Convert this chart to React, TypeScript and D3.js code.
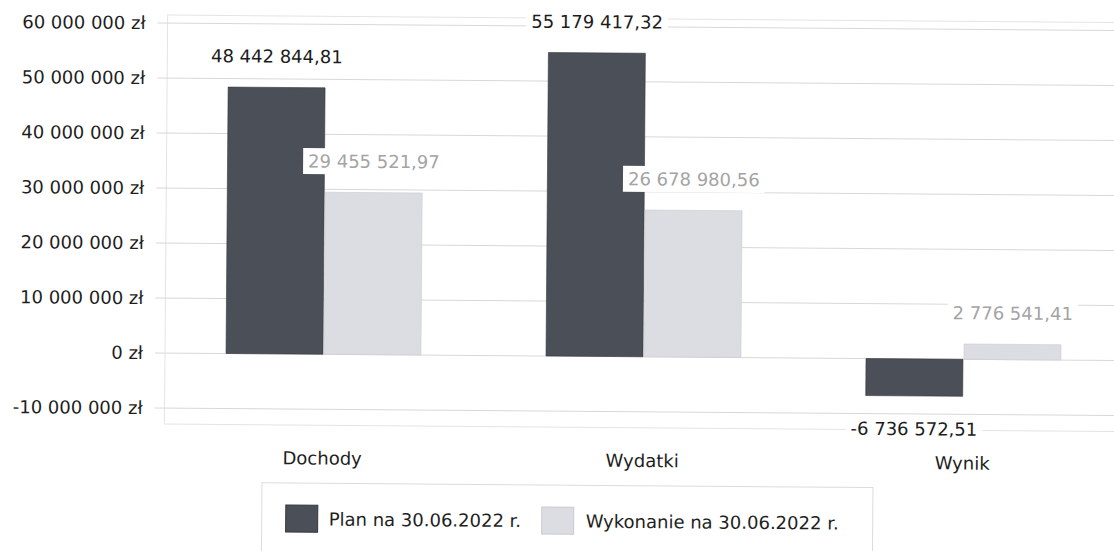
import React, { useEffect, useRef } from "react";
import * as d3 from "d3";

const categories = ["Dochody", "Wydatki", "Wynik"];
const seriesNames = ["Plan na 30.06.2022 r.", "Wykonanie na 30.06.2022 r."];
const planValues = [48442844.81, 55179417.32, -6736572.51];
const wykonanieValues = [29455521.97, 26678980.56, 2776541.41];
const yTicks = [-10000000, 0, 10000000, 20000000, 30000000, 40000000, 50000000, 60000000];
const seriesColors = ["#4b4f57", "#dcdde2"];
const seriesStroke = ["#33363c", "#c9cad0"];
const labelColors = ["#1c1c1c", "#a4a4a4"];

const W = 1114;
const H = 551;
const FONT = "'DejaVu Sans', Verdana, sans-serif";

export default function App() {
  const ref = useRef<SVGSVGElement | null>(null);

  useEffect(() => {
    const svg = d3.select(ref.current);
    svg.selectAll("*").remove();

    const locale = d3.formatLocale({
      decimal: ",",
      thousands: " ",
      grouping: [3],
      currency: ["", " zł"],
      minus: "-",
    });
    const fmtTick = (v: number) => locale.format(",d")(v) + " zł";
    const fmtVal = locale.format(",.2f");

    const root = svg
      .append("g")
      .attr("transform", "rotate(0.45,165,353)")
      .style("font-family", FONT)
      .style("font-size", "18px");

    const plotLeft = 165;
    const plotTop = 15;
    const plotBottom = 424;
    const plotRight = 1125;

    const x0 = d3.scaleBand<string>().domain(categories).range([plotLeft - 2, plotRight - 2]).padding(0);
    const bw = x0.bandwidth();
    const x1 = d3
      .scaleBand<string>()
      .domain(seriesNames)
      .range([bw * 0.197, bw * 0.806])
      .paddingInner(0.01)
      .paddingOuter(0);
    const y = d3.scaleLinear().domain([-10000000, 60000000]).range([408, 23]);

    // plot frame
    root
      .append("rect")
      .attr("x", plotLeft)
      .attr("y", plotTop)
      .attr("width", plotRight + 20 - plotLeft)
      .attr("height", plotBottom - plotTop)
      .attr("fill", "none")
      .attr("stroke", "#e4e4e4")
      .attr("stroke-width", 1);

    // gridlines
    root
      .append("g")
      .selectAll("line")
      .data(yTicks)
      .join("line")
      .attr("x1", plotLeft - 10)
      .attr("x2", plotRight + 20)
      .attr("y1", (d) => y(d))
      .attr("y2", (d) => y(d))
      .attr("stroke", "#d8d8d8")
      .attr("stroke-width", 1);

    // y tick labels
    root
      .append("g")
      .selectAll("text")
      .data(yTicks)
      .join("text")
      .attr("x", 143)
      .attr("y", (d) => y(d))
      .attr("dy", "0.35em")
      .attr("text-anchor", "end")
      .attr("fill", "#1e1e1e")
      .text((d) => fmtTick(d));

    const seriesValues = [planValues, wykonanieValues];

    // bars
    const bars = root.append("g");
    seriesNames.forEach((s, si) => {
      bars
        .append("g")
        .selectAll("rect")
        .data(categories.map((c, ci) => ({ c, v: seriesValues[si][ci] })))
        .join("rect")
        .attr("x", (d) => (x0(d.c) as number) + (x1(s) as number))
        .attr("width", x1.bandwidth())
        .attr("y", (d) => Math.min(y(d.v), y(0)))
        .attr("height", (d) => Math.abs(y(d.v) - y(0)))
        .attr("fill", seriesColors[si])
        .attr("stroke", seriesStroke[si])
        .attr("stroke-width", 0.6);
    });

    // value labels with white boxes
    const labels = root.append("g");
    seriesNames.forEach((s, si) => {
      categories.forEach((c, ci) => {
        const v = seriesValues[si][ci];
        const cx = (x0(c) as number) + (x1(s) as number) + x1.bandwidth() / 2;
        const cy = v >= 0 ? y(v) - 31 : y(v) + 33;
        const g = labels.append("g");
        const rect = g.append("rect").attr("fill", "#ffffff");
        const t = g
          .append("text")
          .attr("x", cx)
          .attr("y", cy)
          .attr("dy", "0.35em")
          .attr("text-anchor", "middle")
          .attr("fill", labelColors[si])
          .text(fmtVal(v));
        const bb = (t.node() as SVGTextElement).getBBox();
        rect
          .attr("x", bb.x - 5)
          .attr("y", cy - 13)
          .attr("width", bb.width + 10)
          .attr("height", 26);
      });
    });

    // category labels
    root
      .append("g")
      .selectAll("text")
      .data(categories)
      .join("text")
      .attr("x", (d) => (x0(d) as number) + bw / 2)
      .attr("y", 457)
      .attr("dy", "0.35em")
      .attr("text-anchor", "middle")
      .attr("fill", "#1e1e1e")
      .text((d) => d);

    // legend
    const lg = root.append("g");
    lg.append("rect")
      .attr("x", 263)
      .attr("y", 482)
      .attr("width", 611)
      .attr("height", 90)
      .attr("fill", "#fff")
      .attr("stroke", "#dcdcdc");
    const legendItems = [
      { sx: 287, tx: 330 },
      { sx: 543, tx: 587 },
    ];
    seriesNames.forEach((s, si) => {
      lg.append("rect")
        .attr("x", legendItems[si].sx)
        .attr("y", 504)
        .attr("width", 32)
        .attr("height", 27)
        .attr("fill", seriesColors[si])
        .attr("stroke", seriesStroke[si])
        .attr("stroke-width", 1);
      lg.append("text")
        .attr("x", legendItems[si].tx)
        .attr("y", 518)
        .attr("dy", "0.35em")
        .attr("fill", "#1e1e1e")
        .text(s);
    });
  }, []);

  return (
    <div style={{ position: "fixed", left: 0, top: 0, width: W, height: H, background: "#fff" }}>
      <svg ref={ref} width={W} height={H} style={{ display: "block" }} />
    </div>
  );
}
